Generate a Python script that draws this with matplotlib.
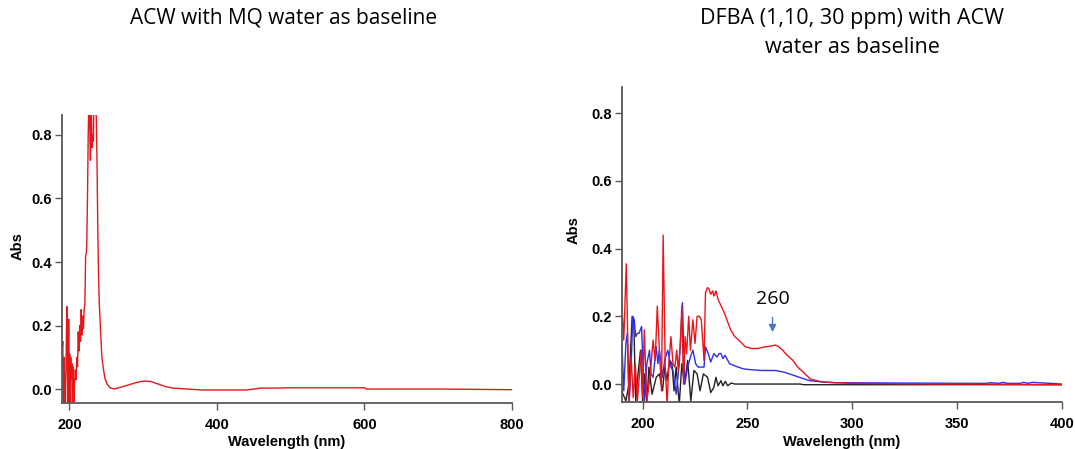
import matplotlib
matplotlib.use('Agg')
import matplotlib.pyplot as plt
import numpy as np

# ---- left panel: ACW vs MQ water ----
acw_wl = [190, 191, 192, 192.8, 193.5, 194.5, 195.5, 196.5, 197.5, 198.2,
          199, 199.6, 200.3, 201, 201.8, 202.5, 203.3, 204, 205, 206,
          207, 208, 209, 210, 211, 212, 213, 214, 215, 216,
          217, 218, 219, 220, 221, 222, 223, 223.5, 224.5, 225.5,
          226.5, 227.5, 228.5, 229.5, 230.5, 231.5, 232.5, 233.5, 234.5, 235.5,
          236.5, 237.5, 238.5, 239.5, 240.5, 241.5, 242.5, 244, 246, 248,
          251, 255, 261, 270, 280, 290, 300, 310, 320, 330,
          340, 360, 380, 400, 420, 440, 450, 460, 480, 500,
          520, 540, 560, 580, 600, 602, 650, 700, 750, 800]
acw_abs = [0.12, 0.15, -0.05, 0.10, 0.02, -0.06, 0.08, 0.26, 0.05, -0.06,
           0.22, 0.02, 0.11, -0.05, 0.10, 0.03, 0.08, -0.06, 0.07, -0.04,
           0.02, 0.06, 0.03, 0.10, 0.07, 0.18, 0.12, 0.20, 0.15, 0.25,
           0.17, 0.23, 0.19, 0.25, 0.27, 0.42, 0.43, 0.45, 0.60, 0.80,
           0.92, 0.85, 0.72, 0.95, 0.76, 0.80, 0.78, 0.95, 0.90, 0.92,
           0.85, 0.70, 0.50, 0.36, 0.27, 0.22, 0.17, 0.10, 0.065, 0.035,
           0.016, 0.004, 0.0, 0.006, 0.013, 0.02, 0.025, 0.024, 0.016, 0.008,
           0.003, 0.0, -0.003, -0.003, -0.003, -0.003, 0.0, 0.003, 0.003, 0.004,
           0.004, 0.004, 0.004, 0.004, 0.004, 0.0, 0.0, 0.0, -0.001, -0.002]

# ---- right panel: DFBA 1, 10, 30 ppm vs ACW ----
red_wl = [190, 191, 192.2, 193.5, 194.5, 195.5, 196.5, 197.5, 198.5, 199.3,
          200, 200.8, 202, 203.5, 205, 206, 207, 208, 209, 209.8,
          210.8, 211.7, 212.5, 213.5, 214.5, 215.4, 216.3, 217, 218, 218.7,
          219.5, 220.3, 221, 222, 222.8, 224, 225, 226, 227, 228,
          229.3, 230, 231, 231.7, 232.5, 233.4, 234, 235, 236, 237.5,
          239, 240.5, 242, 244, 245.8, 247.5, 249, 252, 255, 258.5,
          261, 263.5, 265, 266.8, 269, 271.7, 274, 276.7, 280, 285,
          291, 300, 320, 340, 360, 380, 400]
red_abs = [0.24, 0.13, 0.355, -0.06, 0.08, -0.04, 0.06, -0.05, 0.03, 0.10,
           -0.04, 0.16, -0.05, 0.02, 0.13, 0.07, 0.23, 0.10, -0.02, 0.44,
           0.05, -0.06, 0.06, 0.14, 0.06, 0.05, 0.10, 0.04, 0.12, 0.23,
           0.0, 0.14, 0.09, 0.20, 0.10, 0.19, 0.12, 0.20, 0.20, 0.19,
           0.07, 0.27, 0.285, 0.28, 0.265, 0.275, 0.26, 0.275, 0.25, 0.23,
           0.21, 0.185, 0.16, 0.14, 0.13, 0.12, 0.11, 0.105, 0.105, 0.11,
           0.112, 0.115, 0.11, 0.10, 0.085, 0.07, 0.05, 0.035, 0.015, 0.007,
           0.004, 0.002, 0.001, 0.0, 0.0, -0.001, -0.002]

blue_wl = [190, 191, 192, 192.7, 193.5, 194.5, 195.3, 196, 196.7, 197.5,
           198.3, 199.5, 200.8, 202, 203.3, 204, 205, 206.5, 207.3, 208,
           209.5, 210.5, 212, 213.5, 214.5, 216, 217.5, 219, 220.1, 221.5,
           222.8, 224, 225.3, 226.5, 227.6, 229.3, 230, 231.3, 232.5, 234,
           235.5, 236.5, 237.4, 238.3, 239.3, 241.5, 243.5, 245.6, 248, 250.4,
           257, 263.4, 267.5, 271, 274.8, 279.7, 286, 292.7, 320, 364,
           366, 370, 372, 374, 380, 382, 384, 386, 400]
blue_abs = [0.14, -0.02, 0.12, 0.15, -0.06, 0.05, 0.20, 0.19, 0.14, 0.15,
            0.15, 0.17, -0.05, 0.06, 0.10, 0.03, 0.02, 0.11, 0.06, 0.10,
            0.02, 0.07, 0.10, 0.05, 0.04, -0.03, 0.06, 0.24, 0.0, 0.05,
            0.08, 0.10, 0.06, 0.05, 0.05, 0.05, 0.11, 0.09, 0.065, 0.09,
            0.08, 0.09, 0.09, 0.075, 0.085, 0.06, 0.055, 0.05, 0.045, 0.043,
            0.04, 0.04, 0.035, 0.028, 0.02, 0.01, 0.006, 0.004, 0.003, 0.002,
            0.004, 0.002, 0.005, 0.002, 0.002, 0.005, 0.002, 0.005, 0.0]

black_wl = [190, 192, 193.5, 195, 195.8, 196.7, 197.8, 199, 200, 200.8,
            202, 203, 204.5, 206.5, 208, 209.5, 210.6, 211.5, 213, 214,
            215, 216, 217.5, 218.7, 220, 221.5, 223, 224.5, 226, 227.4,
            229, 231, 232.5, 234, 235, 236, 237.4, 238.3, 239.5, 240.6,
            242.3, 244, 250, 260, 275, 277, 300, 350, 400]
black_abs = [-0.02, -0.05, 0.0, 0.20, 0.18, -0.05, 0.03, 0.10, -0.05, 0.03,
             -0.06, 0.05, -0.03, 0.02, 0.03, -0.02, 0.05, 0.01, 0.07, 0.06,
             -0.02, 0.05, -0.06, 0.06, 0.0, 0.07, -0.05, 0.04, 0.03, -0.02,
             0.03, 0.02, -0.025, -0.01, 0.02, -0.005, 0.01, -0.005, 0.008, -0.005,
             0.003, 0.0, 0.0, 0.0, 0.0, -0.002, -0.002, -0.002, -0.002]

plt.rcParams['font.family'] = ['Liberation Sans', 'DejaVu Sans']

fig = plt.figure(figsize=(10.75, 4.49), dpi=100)
ax1 = fig.add_axes([0.0577, 0.1024, 0.4186, 0.6416])
ax2 = fig.add_axes([0.5783, 0.1047, 0.4093, 0.7022])

def style(ax, xpad, ylab_x):
    for s in ['top', 'right']:
        ax.spines[s].set_visible(False)
    for s in ['left', 'bottom']:
        ax.spines[s].set_color('#595959')
        ax.spines[s].set_linewidth(1.3)
    ax.tick_params(direction='out', length=5, width=1, color='#595959',
                   labelsize=10.5)
    ax.tick_params(axis='x', pad=6)
    ax.tick_params(axis='y', pad=2)
    for lab in ax.get_xticklabels() + ax.get_yticklabels():
        lab.set_fontweight('bold')
    ax.set_xlabel('Wavelength (nm)', fontsize=10.5, fontweight='bold', labelpad=xpad)
    ax.set_ylabel('Abs', fontsize=10.5, fontweight='bold')
    ax.yaxis.set_label_coords(ylab_x, 0.545)

ax1.plot(acw_wl, acw_abs, color='#e8161b', lw=1.0)
ax1.set_xlim(190, 800)
ax1.set_ylim(-0.044, 0.863)
ax1.set_xticks([200, 400, 600, 800])
ax1.set_yticks([0.0, 0.2, 0.4, 0.6, 0.8])
ax1.set_yticklabels(['0.0', '0.2', '0.4', '0.6', '0.8'])
style(ax1, 2, -0.084)

ax2.plot(black_wl, black_abs, color='#222222', lw=1.0)
ax2.plot(blue_wl, blue_abs, color='#2e2ef0', lw=1.0)
ax2.plot(red_wl, red_abs, color='#e8161b', lw=1.0)
ax2.set_xlim(190, 400)
ax2.set_ylim(-0.053, 0.878)
ax2.set_xticks([200, 250, 300, 350, 400])
ax2.set_yticks([0.0, 0.2, 0.4, 0.6, 0.8])
ax2.set_yticklabels(['0.0', '0.2', '0.4', '0.6', '0.8'])
style(ax2, 3, -0.0925)

ax2.annotate('', xy=(262, 0.145), xytext=(262, 0.205),
             arrowprops=dict(arrowstyle='-|>', color='#4a78c2', lw=1.0,
                             mutation_scale=11))
ax2.text(262, 0.225, '260', ha='center', va='bottom', fontsize=14,
         family=['Open Sans', 'DejaVu Sans'])

fig.text(0.264, 0.96, 'ACW with MQ water as baseline', ha='center', va='center',
         fontsize=15, family=['Open Sans', 'DejaVu Sans'])
fig.text(0.793, 0.926, 'DFBA (1,10, 30 ppm) with ACW\nwater as baseline', ha='center',
         va='center', fontsize=15.5, linespacing=1.5, family=['Open Sans', 'DejaVu Sans'])

fig.savefig('out.png', dpi=100)
